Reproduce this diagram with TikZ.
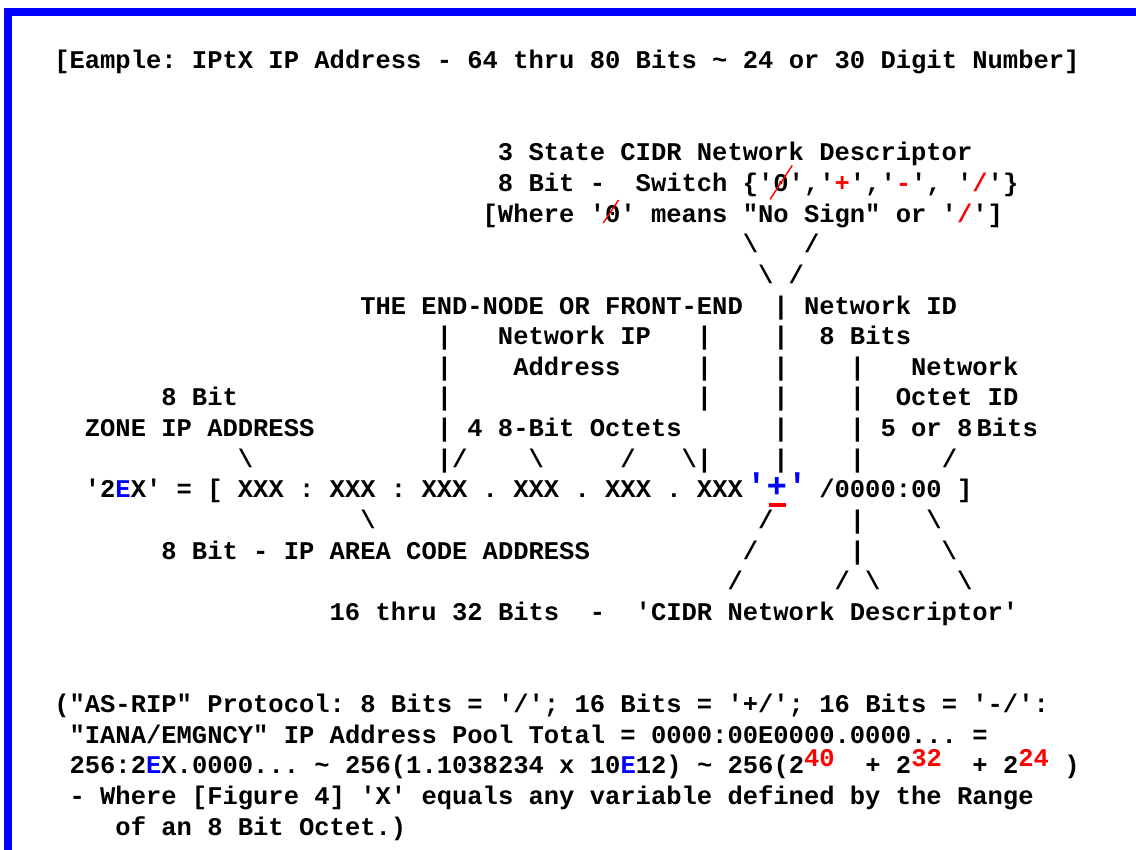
\documentclass[tikz,border=0pt]{standalone}
\usepackage{fontspec}
\setmonofont{Liberation Mono}

\newcommand\redsl{\textcolor{red}{/}}
\newcommand\redsup[1]{\textcolor{red}{\raisebox{.3em}{#1}}}

\begin{document}
\begin{tikzpicture}[
  asc/.style={font=\ttfamily\bfseries\fontsize{18.14}{20}\selectfont, anchor=base west, inner sep=0pt},
  bigsign/.style={font=\ttfamily\bfseries\fontsize{24.3}{26}\selectfont, anchor=base, inner sep=0pt, text=blue},
  nullslash/.style={red, line width=1pt},
  frame/.style={line width=0.2cm, blue}]

\useasboundingbox (0,0) rectangle (28.4,-21.25);
\draw[frame] (0.2,-21.25) -- (0.2,-0.3) -- (28.4,-0.3);

\begin{scope}[shift={(1.35,-1.72)}, x=0.3825cm, y=-0.76625cm]

\node[asc] (title) at (0,0) {[Eample: IPtX IP Address - 64 thru 80 Bits \textasciitilde{} 24 or 30 Digit Number]};

\node[asc] (state) at (29,3) {3 State CIDR Network Descriptor};
\node[asc] (switch) at (29,4) {8 Bit -~~Switch \{'0','\textcolor{red}{+}','\textcolor{red}{-}', '\redsl'\}};
\node[asc] (where) at (28,5) {[Where '0' means "No Sign" or '\redsl']};
\draw[nullslash] (46.8,4.26) -- (48.25,3.15);
\draw[nullslash] (35.9,5.03) -- (36.9,4.28);
\node[asc] (vee1) at (45,6) {\textbackslash~~~/};
\node[asc] (vee2) at (46,7) {\textbackslash{} /};

\node[asc] (front) at (20,8) {THE END-NODE OR FRONT-END~~| Network ID};
\node[asc] (netip) at (25,9) {|~~~Network IP~~~|~~~~|~~8 Bits};
\node[asc] (addr) at (25,10) {|~~~~Address~~~~~|~~~~|~~~~|~~~Network};
\node[asc] (zonebit) at (7,11) {8 Bit};
\node[asc] (octid) at (25,11) {|~~~~~~~~~~~~~~~~|~~~~|~~~~|~~Octet ID};
\node[asc] (zone) at (2,12) {ZONE IP ADDRESS};
\node[asc] (octets) at (25,12) {| 4 8-Bit Octets~~~~~~|~~~~| 5 or 8\,Bits};
\node[asc] (zonesl) at (12,13) {\textbackslash};
\node[asc] (upper) at (25,13) {|/~~~~\textbackslash~~~~~/~~~\textbackslash|~~~~|~~~~|~~~~~/};

\node[asc] (ipaddr) at (2,14) {'2\textcolor{blue}{E}X' = [ XXX : XXX : XXX . XXX . XXX . XXX};
\node[bigsign] (sign) at (47.25,14) {'+'};
\fill[red] (46.73,14.15) rectangle (47.84,14.29);
\node[asc] (tail) at (50,14) {/0000:00 ]};

\node[asc] (areasl) at (20,15) {\textbackslash};
\node[asc] (lower1) at (46,15) {/~~~~~|~~~~\textbackslash};
\node[asc] (area) at (7,16) {8 Bit - IP AREA CODE ADDRESS};
\node[asc] (lower2) at (45,16) {/~~~~~~|~~~~~\textbackslash};
\node[asc] (lower3) at (44,17) {/~~~~~~/ \textbackslash~~~~~\textbackslash};
\node[asc] (cidr) at (18,18) {16 thru 32 Bits~~-~~'CIDR Network Descriptor'};

\node[asc] (note1) at (0,21) {("AS-RIP" Protocol: 8 Bits = '/'; 16 Bits = '+/'; 16 Bits = '-/':};
\node[asc] (note2) at (1,22) {"IANA/EMGNCY" IP Address Pool Total = 0000:00E0000.0000... =};
\node[asc] (note3) at (1,23) {256:2\textcolor{blue}{E}X.0000... \textasciitilde{} 256(1.1038234 x 10\textcolor{blue}{E}12) \textasciitilde{} 256(2\redsup{40}~~+ 2\redsup{32}~~+ 2\redsup{24} )};
\node[asc] (note4) at (1,24) {- Where [Figure 4] 'X' equals any variable defined by the Range};
\node[asc] (note5) at (4,25) {of an 8 Bit Octet.)};

\end{scope}
\end{tikzpicture}
\end{document}
